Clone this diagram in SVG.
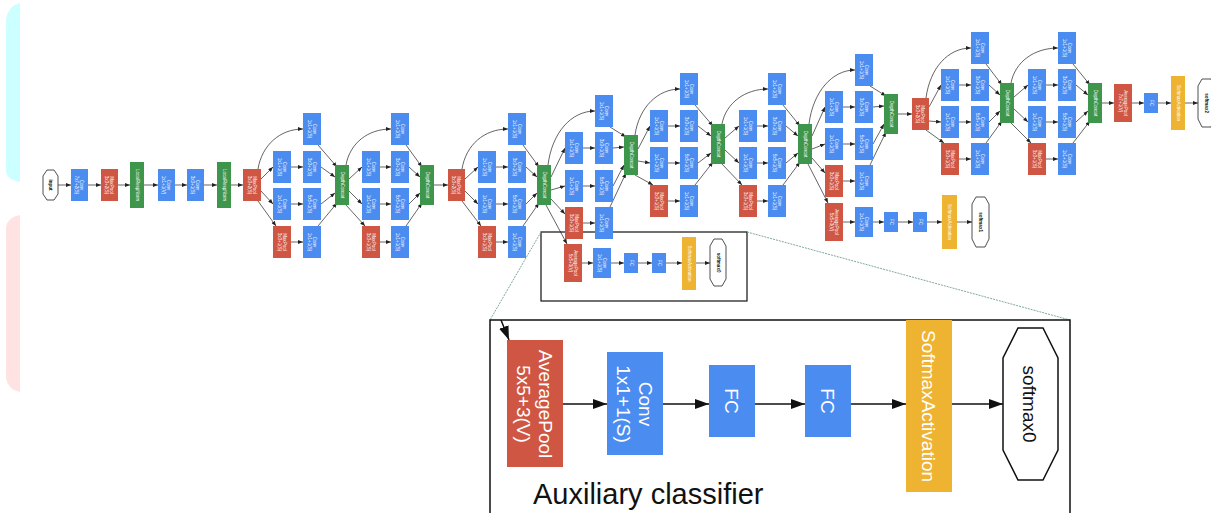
<svg xmlns="http://www.w3.org/2000/svg" width="1211" height="513" viewBox="0 0 1211 513">
<defs>
<marker id="a" markerWidth="5" markerHeight="4" refX="5" refY="2" orient="auto" markerUnits="userSpaceOnUse"><path d="M0,0 L5,2 L0,4 z" fill="#222"/></marker>
<marker id="A" markerWidth="14" markerHeight="10" refX="14" refY="5" orient="auto" markerUnits="userSpaceOnUse"><path d="M0,0 L14,5 L0,10 z" fill="#111"/></marker>
<style>
.c{fill:#4a8cf0}.p{fill:#cf5643}.d{fill:#3e954c}.y{fill:#eeb330}.h{fill:#fff;stroke:#222;stroke-width:.8}
.t{fill:#fff;font-family:"Liberation Sans",Arial,sans-serif;font-size:4.5px;text-anchor:middle}
.tk{fill:#111;font-family:"Liberation Sans",Arial,sans-serif;font-size:4.5px;text-anchor:middle;font-weight:bold}
.e path{fill:none;stroke:#222;stroke-width:.7;marker-end:url(#a)}
.E path{fill:none;stroke:#111;stroke-width:1.5;marker-end:url(#A)}
.L{fill:#fff;font-family:"Liberation Sans",Arial,sans-serif;font-size:19px;text-anchor:middle}
.Lk{fill:#111;font-family:"Liberation Sans",Arial,sans-serif;font-size:19px;text-anchor:middle}
.H{fill:#fff;stroke:#111;stroke-width:1.5}
.z{fill:none;stroke:#7fa89e;stroke-width:1;stroke-dasharray:2 1}
</style>
</defs>
<rect width="1211" height="513" fill="#fff"/>
<path d="M20,3 L20,182 Q8,180 6,172 L6,20 Q8,6 20,3 Z" fill="#ccffff"/>
<path d="M20,215 L20,392 Q8,390 6,378 L6,227 Q8,217 20,215 Z" fill="#ffe3e3"/>

<g id="connectors">
<g class="e">
<path d="M58,185 L71,185"/><path d="M88,185 L101,185"/><path d="M118,185 L130,185"/><path d="M144,185 L158,185"/><path d="M175,185 L187,185"/><path d="M204,185 L217,185"/><path d="M231,185 L243,185"/>
<path d="M258,169 C262,145 280,129 303,129"/><path d="M261,179 L273,167"/><path d="M261,191 L273,204"/><path d="M258,201 L276,226"/>
<path d="M291,167 L303,167"/><path d="M291,204 L303,204"/><path d="M291,242 L303,242"/>
<path d="M318,145 L337,167"/><path d="M321,167 L335,177"/><path d="M321,204 L335,193"/><path d="M318,226 L337,203"/>
<path d="M346,165 C350,143 368,129 391,129"/><path d="M349,179 L362,167"/><path d="M349,191 L362,204"/><path d="M346,205 L365,226"/>
<path d="M380,167 L391,167"/><path d="M380,204 L391,204"/><path d="M380,242 L391,242"/>
<path d="M406,145 L422,167"/><path d="M409,167 L420,177"/><path d="M409,204 L420,193"/><path d="M406,226 L422,203"/>
<path d="M434,185 L448,185"/>
<path d="M462,169 C466,145 484,129 508,129"/><path d="M465,179 L478,167"/><path d="M465,191 L478,204"/><path d="M462,201 L481,226"/>
<path d="M496,167 L508,167"/><path d="M496,204 L508,204"/><path d="M496,242 L508,242"/>
<path d="M523,145 L539,167"/><path d="M526,167 L537,177"/><path d="M526,204 L537,193"/><path d="M523,226 L539,203"/>
<path d="M548,165 C552,133 571,111 595,111"/><path d="M551,177 L565,148"/><path d="M551,190 L565,186"/><path d="M551,199 L565,214"/><path d="M546,205 L567,244"/>
<path d="M583,148 L595,148"/><path d="M583,186 L595,186"/><path d="M583,223 L595,223"/>
<path d="M610,127 L626,137"/><path d="M613,148 L624,147"/><path d="M613,186 L624,165"/><path d="M610,207 L626,173"/>
<path d="M582,263 L593,263"/><path d="M611,263 L624,263"/><path d="M638,263 L652,263"/><path d="M666,263 L682,263"/><path d="M696,263 L710,263"/>
<path d="M635,135 C639,107 658,89 680,89"/><path d="M638,149 L650,126"/><path d="M638,161 L650,163"/><path d="M635,175 L653,185"/>
<path d="M668,126 L680,126"/><path d="M668,163 L680,163"/><path d="M668,201 L680,201"/>
<path d="M695,105 L713,126"/><path d="M698,126 L711,136"/><path d="M698,163 L711,153"/><path d="M695,185 L713,162"/>
<path d="M722,124 C726,103 745,89 768,89"/><path d="M725,138 L739,126"/><path d="M725,150 L739,163"/><path d="M722,164 L742,185"/>
<path d="M757,126 L768,126"/><path d="M757,163 L768,163"/><path d="M757,201 L768,201"/>
<path d="M783,105 L800,126"/><path d="M786,126 L798,136"/><path d="M786,163 L798,153"/><path d="M783,185 L800,162"/>
<path d="M809,124 C813,92 832,70 855,70"/><path d="M812,136 L825,107"/><path d="M812,149 L825,144"/><path d="M812,158 L825,173"/><path d="M808,164 L828,203"/>
<path d="M843,107 L855,107"/><path d="M843,144 L855,144"/><path d="M843,181 L855,181"/>
<path d="M870,86 L886,96"/><path d="M873,107 L884,106"/><path d="M873,144 L884,124"/><path d="M870,165 L886,132"/>
<path d="M843,222 L855,222"/><path d="M873,222 L884,222"/><path d="M898,222 L913,222"/><path d="M927,222 L942,222"/><path d="M957,222 L972,222"/>
<path d="M898,114 L912,114"/>
<path d="M926,98 C930,68 948,48 971,48"/><path d="M929,107 L941,85"/><path d="M929,121 L941,122"/><path d="M926,130 L944,143"/>
<path d="M959,85 L971,85"/><path d="M959,122 L971,122"/><path d="M959,159 L971,159"/>
<path d="M986,64 L1002,85"/><path d="M989,85 L1000,95"/><path d="M989,122 L1000,111"/><path d="M986,143 L1002,121"/>
<path d="M1011,83 C1015,62 1034,48 1058,48"/><path d="M1014,97 L1028,85"/><path d="M1014,109 L1028,122"/><path d="M1011,123 L1031,143"/>
<path d="M1046,85 L1058,85"/><path d="M1046,122 L1058,122"/><path d="M1046,159 L1058,159"/>
<path d="M1073,64 L1090,85"/><path d="M1076,85 L1088,95"/><path d="M1076,122 L1088,111"/><path d="M1073,143 L1090,121"/>
<path d="M1102,103 L1114,103"/><path d="M1132,103 L1144,103"/><path d="M1158,103 L1171,103"/><path d="M1185,103 L1198,103"/>
</g>
<g class="E">
<path d="M501,320 L509,340"/><path d="M563,404 L607,404"/><path d="M663,404 L709,404"/><path d="M755,404 L805,404"/><path d="M851,404 L906,404"/><path d="M952,404 L1003,404"/>
</g>
</g>

<rect x="541" y="232" width="206" height="69" fill="none" stroke="#111" stroke-width="1.2"/>
<path class="z" d="M541,232 L490,320"/>
<path class="z" d="M747,232 L1070,320"/>
<path d="M490,513 L490,320 L1070,320 L1070,513" fill="none" stroke="#111" stroke-width="1.5"/>

<g id="n-input"><polygon class="h" points="47,170 54,170 58,176 58,194 54,200 47,200 43,194 43,176"/><text class="tk" transform="translate(50.5,185) rotate(90)" y="1.5">input</text></g>
<g id="n-conv1"><rect class="c" x="71" y="169" width="17" height="32"/><text class="t" transform="translate(79.5,185) rotate(90)"><tspan x="0" y="-0.8">Conv</tspan><tspan x="0" y="4.2">7x7+2(S)</tspan></text></g>
<g id="n-pool1"><rect class="p" x="101" y="169" width="17" height="32"/><text class="t" transform="translate(109.5,185) rotate(90)"><tspan x="0" y="-0.8">MaxPool</tspan><tspan x="0" y="4.2">3x3+2(S)</tspan></text></g>
<g id="n-lrn1"><rect class="d" x="130" y="162" width="14" height="46"/><text class="t" transform="translate(137,185) rotate(90)" y="1.5">LocalRespNorm</text></g>
<g id="n-conv2"><rect class="c" x="158" y="169" width="17" height="32"/><text class="t" transform="translate(166.5,185) rotate(90)"><tspan x="0" y="-0.8">Conv</tspan><tspan x="0" y="4.2">1x1+1(V)</tspan></text></g>
<g id="n-conv3"><rect class="c" x="187" y="169" width="17" height="32"/><text class="t" transform="translate(195.5,185) rotate(90)"><tspan x="0" y="-0.8">Conv</tspan><tspan x="0" y="4.2">3x3+1(S)</tspan></text></g>
<g id="n-lrn2"><rect class="d" x="217" y="162" width="14" height="46"/><text class="t" transform="translate(224,185) rotate(90)" y="1.5">LocalRespNorm</text></g>
<g id="n-pool2"><rect class="p" x="243" y="169" width="18" height="32"/><text class="t" transform="translate(252,185) rotate(90)"><tspan x="0" y="-0.8">MaxPool</tspan><tspan x="0" y="4.2">3x3+2(S)</tspan></text></g>

<g id="n-3a-top"><rect class="c" x="303" y="113" width="18" height="32"/><text class="t" transform="translate(312,129) rotate(90)"><tspan x="0" y="-0.8">Conv</tspan><tspan x="0" y="4.2">1x1+1(S)</tspan></text></g>
<g id="n-3a-r2l"><rect class="c" x="273" y="151" width="18" height="32"/><text class="t" transform="translate(282,167) rotate(90)"><tspan x="0" y="-0.8">Conv</tspan><tspan x="0" y="4.2">1x1+1(S)</tspan></text></g>
<g id="n-3a-r2r"><rect class="c" x="303" y="151" width="18" height="32"/><text class="t" transform="translate(312,167) rotate(90)"><tspan x="0" y="-0.8">Conv</tspan><tspan x="0" y="4.2">3x3+1(S)</tspan></text></g>
<g id="n-3a-r3l"><rect class="c" x="273" y="188" width="18" height="32"/><text class="t" transform="translate(282,204) rotate(90)"><tspan x="0" y="-0.8">Conv</tspan><tspan x="0" y="4.2">1x1+1(S)</tspan></text></g>
<g id="n-3a-r3r"><rect class="c" x="303" y="188" width="18" height="32"/><text class="t" transform="translate(312,204) rotate(90)"><tspan x="0" y="-0.8">Conv</tspan><tspan x="0" y="4.2">5x5+1(S)</tspan></text></g>
<g id="n-3a-r4l"><rect class="p" x="273" y="226" width="18" height="32"/><text class="t" transform="translate(282,242) rotate(90)"><tspan x="0" y="-0.8">MaxPool</tspan><tspan x="0" y="4.2">3x3+1(S)</tspan></text></g>
<g id="n-3a-r4r"><rect class="c" x="303" y="226" width="18" height="32"/><text class="t" transform="translate(312,242) rotate(90)"><tspan x="0" y="-0.8">Conv</tspan><tspan x="0" y="4.2">1x1+1(S)</tspan></text></g>
<g id="n-3a-cat"><rect class="d" x="335" y="165" width="14" height="40"/><text class="t" transform="translate(342,185) rotate(90)" y="1.5">DepthConcat</text></g>

<g id="n-3b-top"><rect class="c" x="391" y="113" width="18" height="32"/><text class="t" transform="translate(400,129) rotate(90)"><tspan x="0" y="-0.8">Conv</tspan><tspan x="0" y="4.2">1x1+1(S)</tspan></text></g>
<g id="n-3b-r2l"><rect class="c" x="362" y="151" width="18" height="32"/><text class="t" transform="translate(371,167) rotate(90)"><tspan x="0" y="-0.8">Conv</tspan><tspan x="0" y="4.2">1x1+1(S)</tspan></text></g>
<g id="n-3b-r2r"><rect class="c" x="391" y="151" width="18" height="32"/><text class="t" transform="translate(400,167) rotate(90)"><tspan x="0" y="-0.8">Conv</tspan><tspan x="0" y="4.2">3x3+1(S)</tspan></text></g>
<g id="n-3b-r3l"><rect class="c" x="362" y="188" width="18" height="32"/><text class="t" transform="translate(371,204) rotate(90)"><tspan x="0" y="-0.8">Conv</tspan><tspan x="0" y="4.2">1x1+1(S)</tspan></text></g>
<g id="n-3b-r3r"><rect class="c" x="391" y="188" width="18" height="32"/><text class="t" transform="translate(400,204) rotate(90)"><tspan x="0" y="-0.8">Conv</tspan><tspan x="0" y="4.2">5x5+1(S)</tspan></text></g>
<g id="n-3b-r4l"><rect class="p" x="362" y="226" width="18" height="32"/><text class="t" transform="translate(371,242) rotate(90)"><tspan x="0" y="-0.8">MaxPool</tspan><tspan x="0" y="4.2">3x3+1(S)</tspan></text></g>
<g id="n-3b-r4r"><rect class="c" x="391" y="226" width="18" height="32"/><text class="t" transform="translate(400,242) rotate(90)"><tspan x="0" y="-0.8">Conv</tspan><tspan x="0" y="4.2">1x1+1(S)</tspan></text></g>
<g id="n-3b-cat"><rect class="d" x="420" y="165" width="14" height="40"/><text class="t" transform="translate(427,185) rotate(90)" y="1.5">DepthConcat</text></g>
<g id="n-pool3"><rect class="p" x="448" y="169" width="17" height="32"/><text class="t" transform="translate(456.5,185) rotate(90)"><tspan x="0" y="-0.8">MaxPool</tspan><tspan x="0" y="4.2">3x3+2(S)</tspan></text></g>

<g id="n-4a-top"><rect class="c" x="508" y="113" width="18" height="32"/><text class="t" transform="translate(517,129) rotate(90)"><tspan x="0" y="-0.8">Conv</tspan><tspan x="0" y="4.2">1x1+1(S)</tspan></text></g>
<g id="n-4a-r2l"><rect class="c" x="478" y="151" width="18" height="32"/><text class="t" transform="translate(487,167) rotate(90)"><tspan x="0" y="-0.8">Conv</tspan><tspan x="0" y="4.2">1x1+1(S)</tspan></text></g>
<g id="n-4a-r2r"><rect class="c" x="508" y="151" width="18" height="32"/><text class="t" transform="translate(517,167) rotate(90)"><tspan x="0" y="-0.8">Conv</tspan><tspan x="0" y="4.2">3x3+1(S)</tspan></text></g>
<g id="n-4a-r3l"><rect class="c" x="478" y="188" width="18" height="32"/><text class="t" transform="translate(487,204) rotate(90)"><tspan x="0" y="-0.8">Conv</tspan><tspan x="0" y="4.2">1x1+1(S)</tspan></text></g>
<g id="n-4a-r3r"><rect class="c" x="508" y="188" width="18" height="32"/><text class="t" transform="translate(517,204) rotate(90)"><tspan x="0" y="-0.8">Conv</tspan><tspan x="0" y="4.2">5x5+1(S)</tspan></text></g>
<g id="n-4a-r4l"><rect class="p" x="478" y="226" width="18" height="32"/><text class="t" transform="translate(487,242) rotate(90)"><tspan x="0" y="-0.8">MaxPool</tspan><tspan x="0" y="4.2">3x3+1(S)</tspan></text></g>
<g id="n-4a-r4r"><rect class="c" x="508" y="226" width="18" height="32"/><text class="t" transform="translate(517,242) rotate(90)"><tspan x="0" y="-0.8">Conv</tspan><tspan x="0" y="4.2">1x1+1(S)</tspan></text></g>
<g id="n-4a-cat"><rect class="d" x="537" y="165" width="14" height="40"/><text class="t" transform="translate(544,185) rotate(90)" y="1.5">DepthConcat</text></g>

<g id="n-4b-top"><rect class="c" x="595" y="95" width="18" height="32"/><text class="t" transform="translate(604,111) rotate(90)"><tspan x="0" y="-0.8">Conv</tspan><tspan x="0" y="4.2">1x1+1(S)</tspan></text></g>
<g id="n-4b-r2l"><rect class="c" x="565" y="132" width="18" height="32"/><text class="t" transform="translate(574,148) rotate(90)"><tspan x="0" y="-0.8">Conv</tspan><tspan x="0" y="4.2">1x1+1(S)</tspan></text></g>
<g id="n-4b-r2r"><rect class="c" x="595" y="132" width="18" height="32"/><text class="t" transform="translate(604,148) rotate(90)"><tspan x="0" y="-0.8">Conv</tspan><tspan x="0" y="4.2">3x3+1(S)</tspan></text></g>
<g id="n-4b-r3l"><rect class="c" x="565" y="170" width="18" height="32"/><text class="t" transform="translate(574,186) rotate(90)"><tspan x="0" y="-0.8">Conv</tspan><tspan x="0" y="4.2">1x1+1(S)</tspan></text></g>
<g id="n-4b-r3r"><rect class="c" x="595" y="170" width="18" height="32"/><text class="t" transform="translate(604,186) rotate(90)"><tspan x="0" y="-0.8">Conv</tspan><tspan x="0" y="4.2">5x5+1(S)</tspan></text></g>
<g id="n-4b-r4l"><rect class="p" x="565" y="207" width="18" height="32"/><text class="t" transform="translate(574,223) rotate(90)"><tspan x="0" y="-0.8">MaxPool</tspan><tspan x="0" y="4.2">3x3+1(S)</tspan></text></g>
<g id="n-4b-r4r"><rect class="c" x="595" y="207" width="18" height="32"/><text class="t" transform="translate(604,223) rotate(90)"><tspan x="0" y="-0.8">Conv</tspan><tspan x="0" y="4.2">1x1+1(S)</tspan></text></g>
<g id="n-4b-cat"><rect class="d" x="624" y="135" width="14" height="40"/><text class="t" transform="translate(631,155) rotate(90)" y="1.5">DepthConcat</text></g>

<g id="n-aux1-pool"><rect class="p" x="564" y="244" width="18" height="38"/><text class="t" transform="translate(573,263) rotate(90)"><tspan x="0" y="-0.8">AveragePool</tspan><tspan x="0" y="4.2">5x5+3(V)</tspan></text></g>
<g id="n-aux1-conv"><rect class="c" x="593" y="248" width="18" height="30"/><text class="t" transform="translate(602,263) rotate(90)"><tspan x="0" y="-0.8">Conv</tspan><tspan x="0" y="4.2">1x1+1(S)</tspan></text></g>
<g id="n-aux1-fc1"><rect class="c" x="624" y="253" width="14" height="20"/><text class="t" transform="translate(631,263) rotate(90)" y="1.5">FC</text></g>
<g id="n-aux1-fc2"><rect class="c" x="652" y="253" width="14" height="20"/><text class="t" transform="translate(659,263) rotate(90)" y="1.5">FC</text></g>
<g id="n-aux1-soft"><rect class="y" x="682" y="237" width="14" height="53"/><text class="t" transform="translate(689,263.5) rotate(90)" y="1.5">SoftmaxActivation</text></g>
<g id="n-softmax0"><polygon class="h" points="714,239 722,239 726,246 726,279 722,286 714,286 710,279 710,246"/><text class="tk" transform="translate(718,262.5) rotate(90)" y="1.5">softmax0</text></g>

<g id="n-4c-top"><rect class="c" x="680" y="73" width="18" height="32"/><text class="t" transform="translate(689,89) rotate(90)"><tspan x="0" y="-0.8">Conv</tspan><tspan x="0" y="4.2">1x1+1(S)</tspan></text></g>
<g id="n-4c-r2l"><rect class="c" x="650" y="110" width="18" height="32"/><text class="t" transform="translate(659,126) rotate(90)"><tspan x="0" y="-0.8">Conv</tspan><tspan x="0" y="4.2">1x1+1(S)</tspan></text></g>
<g id="n-4c-r2r"><rect class="c" x="680" y="110" width="18" height="32"/><text class="t" transform="translate(689,126) rotate(90)"><tspan x="0" y="-0.8">Conv</tspan><tspan x="0" y="4.2">3x3+1(S)</tspan></text></g>
<g id="n-4c-r3l"><rect class="c" x="650" y="147" width="18" height="32"/><text class="t" transform="translate(659,163) rotate(90)"><tspan x="0" y="-0.8">Conv</tspan><tspan x="0" y="4.2">1x1+1(S)</tspan></text></g>
<g id="n-4c-r3r"><rect class="c" x="680" y="147" width="18" height="32"/><text class="t" transform="translate(689,163) rotate(90)"><tspan x="0" y="-0.8">Conv</tspan><tspan x="0" y="4.2">5x5+1(S)</tspan></text></g>
<g id="n-4c-r4l"><rect class="p" x="650" y="185" width="18" height="32"/><text class="t" transform="translate(659,201) rotate(90)"><tspan x="0" y="-0.8">MaxPool</tspan><tspan x="0" y="4.2">3x3+1(S)</tspan></text></g>
<g id="n-4c-r4r"><rect class="c" x="680" y="185" width="18" height="32"/><text class="t" transform="translate(689,201) rotate(90)"><tspan x="0" y="-0.8">Conv</tspan><tspan x="0" y="4.2">1x1+1(S)</tspan></text></g>
<g id="n-4c-cat"><rect class="d" x="711" y="124" width="14" height="40"/><text class="t" transform="translate(718,144) rotate(90)" y="1.5">DepthConcat</text></g>

<g id="n-4d-top"><rect class="c" x="768" y="73" width="18" height="32"/><text class="t" transform="translate(777,89) rotate(90)"><tspan x="0" y="-0.8">Conv</tspan><tspan x="0" y="4.2">1x1+1(S)</tspan></text></g>
<g id="n-4d-r2l"><rect class="c" x="739" y="110" width="18" height="32"/><text class="t" transform="translate(748,126) rotate(90)"><tspan x="0" y="-0.8">Conv</tspan><tspan x="0" y="4.2">1x1+1(S)</tspan></text></g>
<g id="n-4d-r2r"><rect class="c" x="768" y="110" width="18" height="32"/><text class="t" transform="translate(777,126) rotate(90)"><tspan x="0" y="-0.8">Conv</tspan><tspan x="0" y="4.2">3x3+1(S)</tspan></text></g>
<g id="n-4d-r3l"><rect class="c" x="739" y="147" width="18" height="32"/><text class="t" transform="translate(748,163) rotate(90)"><tspan x="0" y="-0.8">Conv</tspan><tspan x="0" y="4.2">1x1+1(S)</tspan></text></g>
<g id="n-4d-r3r"><rect class="c" x="768" y="147" width="18" height="32"/><text class="t" transform="translate(777,163) rotate(90)"><tspan x="0" y="-0.8">Conv</tspan><tspan x="0" y="4.2">5x5+1(S)</tspan></text></g>
<g id="n-4d-r4l"><rect class="p" x="739" y="185" width="18" height="32"/><text class="t" transform="translate(748,201) rotate(90)"><tspan x="0" y="-0.8">MaxPool</tspan><tspan x="0" y="4.2">3x3+1(S)</tspan></text></g>
<g id="n-4d-r4r"><rect class="c" x="768" y="185" width="18" height="32"/><text class="t" transform="translate(777,201) rotate(90)"><tspan x="0" y="-0.8">Conv</tspan><tspan x="0" y="4.2">1x1+1(S)</tspan></text></g>
<g id="n-4d-cat"><rect class="d" x="798" y="124" width="14" height="40"/><text class="t" transform="translate(805,144) rotate(90)" y="1.5">DepthConcat</text></g>

<g id="n-4e-top"><rect class="c" x="855" y="54" width="18" height="32"/><text class="t" transform="translate(864,70) rotate(90)"><tspan x="0" y="-0.8">Conv</tspan><tspan x="0" y="4.2">1x1+1(S)</tspan></text></g>
<g id="n-4e-r2l"><rect class="c" x="825" y="91" width="18" height="32"/><text class="t" transform="translate(834,107) rotate(90)"><tspan x="0" y="-0.8">Conv</tspan><tspan x="0" y="4.2">1x1+1(S)</tspan></text></g>
<g id="n-4e-r2r"><rect class="c" x="855" y="91" width="18" height="32"/><text class="t" transform="translate(864,107) rotate(90)"><tspan x="0" y="-0.8">Conv</tspan><tspan x="0" y="4.2">3x3+1(S)</tspan></text></g>
<g id="n-4e-r3l"><rect class="c" x="825" y="128" width="18" height="32"/><text class="t" transform="translate(834,144) rotate(90)"><tspan x="0" y="-0.8">Conv</tspan><tspan x="0" y="4.2">1x1+1(S)</tspan></text></g>
<g id="n-4e-r3r"><rect class="c" x="855" y="128" width="18" height="32"/><text class="t" transform="translate(864,144) rotate(90)"><tspan x="0" y="-0.8">Conv</tspan><tspan x="0" y="4.2">5x5+1(S)</tspan></text></g>
<g id="n-4e-r4l"><rect class="p" x="825" y="165" width="18" height="32"/><text class="t" transform="translate(834,181) rotate(90)"><tspan x="0" y="-0.8">MaxPool</tspan><tspan x="0" y="4.2">3x3+1(S)</tspan></text></g>
<g id="n-4e-r4r"><rect class="c" x="855" y="165" width="18" height="32"/><text class="t" transform="translate(864,181) rotate(90)"><tspan x="0" y="-0.8">Conv</tspan><tspan x="0" y="4.2">1x1+1(S)</tspan></text></g>
<g id="n-4e-cat"><rect class="d" x="884" y="94" width="14" height="40"/><text class="t" transform="translate(891,114) rotate(90)" y="1.5">DepthConcat</text></g>

<g id="n-aux2-pool"><rect class="p" x="825" y="203" width="18" height="38"/><text class="t" transform="translate(834,222) rotate(90)"><tspan x="0" y="-0.8">AveragePool</tspan><tspan x="0" y="4.2">5x5+3(V)</tspan></text></g>
<g id="n-aux2-conv"><rect class="c" x="855" y="207" width="18" height="30"/><text class="t" transform="translate(864,222) rotate(90)"><tspan x="0" y="-0.8">Conv</tspan><tspan x="0" y="4.2">1x1+1(S)</tspan></text></g>
<g id="n-aux2-fc1"><rect class="c" x="884" y="212" width="14" height="20"/><text class="t" transform="translate(891,222) rotate(90)" y="1.5">FC</text></g>
<g id="n-aux2-fc2"><rect class="c" x="913" y="212" width="14" height="20"/><text class="t" transform="translate(920,222) rotate(90)" y="1.5">FC</text></g>
<g id="n-aux2-soft"><rect class="y" x="942" y="195" width="15" height="54"/><text class="t" transform="translate(949.5,222) rotate(90)" y="1.5">SoftmaxActivation</text></g>
<g id="n-softmax1"><polygon class="h" points="976,197 985,197 989,204 989,239 985,247 976,247 972,239 972,204"/><text class="tk" transform="translate(980.5,222) rotate(90)" y="1.5">softmax1</text></g>

<g id="n-pool4"><rect class="p" x="912" y="98" width="17" height="32"/><text class="t" transform="translate(920.5,114) rotate(90)"><tspan x="0" y="-0.8">MaxPool</tspan><tspan x="0" y="4.2">3x3+2(S)</tspan></text></g>

<g id="n-5a-top"><rect class="c" x="971" y="32" width="18" height="32"/><text class="t" transform="translate(980,48) rotate(90)"><tspan x="0" y="-0.8">Conv</tspan><tspan x="0" y="4.2">1x1+1(S)</tspan></text></g>
<g id="n-5a-r2l"><rect class="c" x="941" y="69" width="18" height="32"/><text class="t" transform="translate(950,85) rotate(90)"><tspan x="0" y="-0.8">Conv</tspan><tspan x="0" y="4.2">1x1+1(S)</tspan></text></g>
<g id="n-5a-r2r"><rect class="c" x="971" y="69" width="18" height="32"/><text class="t" transform="translate(980,85) rotate(90)"><tspan x="0" y="-0.8">Conv</tspan><tspan x="0" y="4.2">3x3+1(S)</tspan></text></g>
<g id="n-5a-r3l"><rect class="c" x="941" y="106" width="18" height="32"/><text class="t" transform="translate(950,122) rotate(90)"><tspan x="0" y="-0.8">Conv</tspan><tspan x="0" y="4.2">1x1+1(S)</tspan></text></g>
<g id="n-5a-r3r"><rect class="c" x="971" y="106" width="18" height="32"/><text class="t" transform="translate(980,122) rotate(90)"><tspan x="0" y="-0.8">Conv</tspan><tspan x="0" y="4.2">5x5+1(S)</tspan></text></g>
<g id="n-5a-r4l"><rect class="p" x="941" y="143" width="18" height="32"/><text class="t" transform="translate(950,159) rotate(90)"><tspan x="0" y="-0.8">MaxPool</tspan><tspan x="0" y="4.2">3x3+1(S)</tspan></text></g>
<g id="n-5a-r4r"><rect class="c" x="971" y="143" width="18" height="32"/><text class="t" transform="translate(980,159) rotate(90)"><tspan x="0" y="-0.8">Conv</tspan><tspan x="0" y="4.2">1x1+1(S)</tspan></text></g>
<g id="n-5a-cat"><rect class="d" x="1000" y="83" width="14" height="40"/><text class="t" transform="translate(1007,103) rotate(90)" y="1.5">DepthConcat</text></g>

<g id="n-5b-top"><rect class="c" x="1058" y="32" width="18" height="32"/><text class="t" transform="translate(1067,48) rotate(90)"><tspan x="0" y="-0.8">Conv</tspan><tspan x="0" y="4.2">1x1+1(S)</tspan></text></g>
<g id="n-5b-r2l"><rect class="c" x="1028" y="69" width="18" height="32"/><text class="t" transform="translate(1037,85) rotate(90)"><tspan x="0" y="-0.8">Conv</tspan><tspan x="0" y="4.2">1x1+1(S)</tspan></text></g>
<g id="n-5b-r2r"><rect class="c" x="1058" y="69" width="18" height="32"/><text class="t" transform="translate(1067,85) rotate(90)"><tspan x="0" y="-0.8">Conv</tspan><tspan x="0" y="4.2">3x3+1(S)</tspan></text></g>
<g id="n-5b-r3l"><rect class="c" x="1028" y="106" width="18" height="32"/><text class="t" transform="translate(1037,122) rotate(90)"><tspan x="0" y="-0.8">Conv</tspan><tspan x="0" y="4.2">1x1+1(S)</tspan></text></g>
<g id="n-5b-r3r"><rect class="c" x="1058" y="106" width="18" height="32"/><text class="t" transform="translate(1067,122) rotate(90)"><tspan x="0" y="-0.8">Conv</tspan><tspan x="0" y="4.2">5x5+1(S)</tspan></text></g>
<g id="n-5b-r4l"><rect class="p" x="1028" y="143" width="18" height="32"/><text class="t" transform="translate(1037,159) rotate(90)"><tspan x="0" y="-0.8">MaxPool</tspan><tspan x="0" y="4.2">3x3+1(S)</tspan></text></g>
<g id="n-5b-r4r"><rect class="c" x="1058" y="143" width="18" height="32"/><text class="t" transform="translate(1067,159) rotate(90)"><tspan x="0" y="-0.8">Conv</tspan><tspan x="0" y="4.2">1x1+1(S)</tspan></text></g>
<g id="n-5b-cat"><rect class="d" x="1088" y="83" width="14" height="40"/><text class="t" transform="translate(1095,103) rotate(90)" y="1.5">DepthConcat</text></g>

<g id="n-avgpool"><rect class="p" x="1114" y="84" width="18" height="38"/><text class="t" transform="translate(1123,103) rotate(90)"><tspan x="0" y="-0.8">AveragePool</tspan><tspan x="0" y="4.2">7x7+1(V)</tspan></text></g>
<g id="n-fc"><rect class="c" x="1144" y="93" width="14" height="20"/><text class="t" transform="translate(1151,103) rotate(90)" y="1.5">FC</text></g>
<g id="n-soft2"><rect class="y" x="1171" y="76" width="14" height="54"/><text class="t" transform="translate(1178,103) rotate(90)" y="1.5">SoftmaxActivation</text></g>
<g id="n-softmax2"><polygon class="h" points="1202,79 1211,79 1215,86 1215,119 1211,127 1202,127 1198,119 1198,86"/><text class="tk" transform="translate(1206,103) rotate(90)" y="1.5">softmax2</text></g>

<g id="i-avgpool"><rect class="p" x="507" y="340" width="56" height="127"/><text class="L" transform="translate(535,404) rotate(90)"><tspan x="0" y="-4">AveragePool</tspan><tspan x="0" y="18">5x5+3(V)</tspan></text></g>
<g id="i-conv"><rect class="c" x="607" y="352" width="56" height="103"/><text class="L" transform="translate(635,404) rotate(90)"><tspan x="0" y="-4">Conv</tspan><tspan x="0" y="18">1x1+1(S)</tspan></text></g>
<g id="i-fc1"><rect class="c" x="709" y="365" width="46" height="72"/><text class="L" transform="translate(732,401) rotate(90)" y="7">FC</text></g>
<g id="i-fc2"><rect class="c" x="805" y="365" width="46" height="72"/><text class="L" transform="translate(828,401) rotate(90)" y="7">FC</text></g>
<g id="i-soft"><rect class="y" x="906" y="320" width="46" height="172"/><text class="L" transform="translate(929,406) rotate(90)" y="7">SoftmaxActivation</text></g>
<g id="i-softmax0"><polygon class="H" points="1018,328 1043,328 1058,358 1058,450 1043,480 1018,480 1003,450 1003,358"/><text class="Lk" transform="translate(1030,404) rotate(90)" y="7">softmax0</text></g>
<text x="533" y="504" font-family="Liberation Sans, Arial, sans-serif" font-size="29" fill="#111">Auxiliary classifier</text>
</svg>
